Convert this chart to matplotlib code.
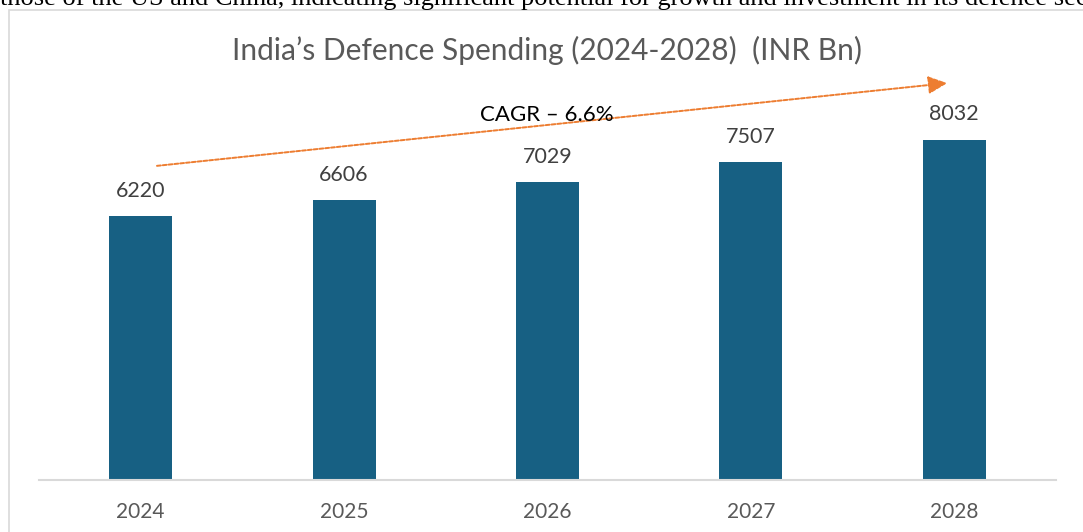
import matplotlib
matplotlib.use("Agg")
import matplotlib.pyplot as plt
from matplotlib.patches import Rectangle

years = ["2024", "2025", "2026", "2027", "2028"]
spending = [6220, 6606, 7029, 7507, 8032]
title = "India\u2019s Defence Spending (2024-2028)  (INR Bn)"
cagr_label = "CAGR \u2013 6.6%"
top_text = "those of the US and China, indicating significant potential for growth and investment in its defence sec"

W, H = 1083, 532
fig = plt.figure(figsize=(W / 100, H / 100), dpi=100)
fig.patch.set_facecolor("white")

# frame of the embedded chart
fig.patches.append(Rectangle((9 / W, -0.05), 1.2, (H - 10) / H + 0.05, transform=fig.transFigure,
                             fill=False, edgecolor="#d9d9d9", linewidth=1.2, zorder=0))

# cut-off document text at top (as in the reference screenshot)
fig.text(0 / W, 1 - 5.5 / H, top_text, family="Liberation Serif", fontsize=19,
         color="black", va="baseline", ha="left")

ax_left, ax_right, ax_bottom, ax_top = 39, 1056, 480, 60
ax = fig.add_axes([ax_left / W, (H - ax_bottom) / H, (ax_right - ax_left) / W, (ax_bottom - ax_top) / H])
x = list(range(len(years)))
bars = ax.bar(x, spending, width=0.31, color="#176083", zorder=2)
ax.set_xlim(-0.5, len(years) - 0.5)
ax.set_ylim(0, 9910)
for xi, v in zip(x, spending):
    ax.annotate(f"{v}", (xi, v), xytext=(0, 11), textcoords="offset points",
                ha="center", va="bottom", family="Lato", fontsize=15.5, color="#404040")

ax.set_xticks(x)
ax.set_xticklabels(years, family="Lato", fontsize=15, color="#595959")
ax.tick_params(axis="x", length=0, pad=15.5)
ax.set_yticks([])
for s in ["top", "right", "left"]:
    ax.spines[s].set_visible(False)
ax.spines["bottom"].set_color("#d9d9d9")
ax.spines["bottom"].set_linewidth(1.5)

# CAGR arrow
ax.annotate("", xy=(0.893, 0.945), xytext=(0.116, 0.748), xycoords="axes fraction",
            textcoords="axes fraction",
            arrowprops=dict(arrowstyle="-|>,head_length=1.15,head_width=0.54", color="#ED7D31",
                            linestyle=(0, (2, 1)), linewidth=1.4, shrinkA=0, shrinkB=0))
fig.text(547 / W, 1 - 115 / H, cagr_label, family="Lato", fontsize=16, color="black",
         ha="center", va="center")

fig.text(547 / W, 1 - 50 / H, title, family="Lato", fontsize=21.5,
         color="#595959", ha="center", va="center")

fig.savefig("out.png", dpi=100, facecolor="white")
